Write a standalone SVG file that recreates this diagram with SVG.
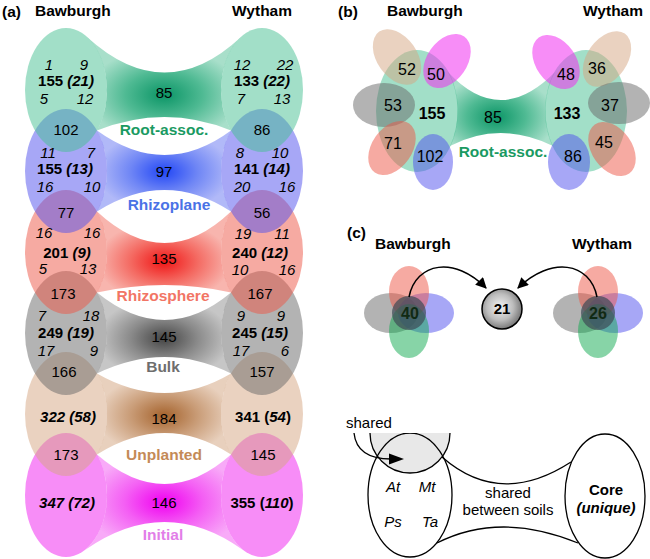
<svg xmlns="http://www.w3.org/2000/svg" width="650" height="559" viewBox="0 0 650 559">
<defs>
<radialGradient id="gG" cx="0.5" cy="0.62" r="0.5"><stop offset="0" stop-color="#0b9566"/><stop offset="0.5" stop-color="#4fba93"/><stop offset="1" stop-color="#a8dfca"/></radialGradient>
<radialGradient id="gB" cx="0.5" cy="0.51" r="0.5"><stop offset="0" stop-color="#2247f5"/><stop offset="0.5" stop-color="#6f86f5"/><stop offset="1" stop-color="#b1b9f8"/></radialGradient>
<radialGradient id="gR" cx="0.5" cy="0.62" r="0.5"><stop offset="0" stop-color="#f01515"/><stop offset="0.5" stop-color="#f46a62"/><stop offset="1" stop-color="#f8b5ae"/></radialGradient>
<radialGradient id="gK" cx="0.5" cy="0.57" r="0.5"><stop offset="0" stop-color="#454545"/><stop offset="0.5" stop-color="#8a8a8a"/><stop offset="1" stop-color="#c6c6c6"/></radialGradient>
<radialGradient id="gT" cx="0.5" cy="0.52" r="0.5"><stop offset="0" stop-color="#a5632d"/><stop offset="0.5" stop-color="#c99c77"/><stop offset="1" stop-color="#e8d0bd"/></radialGradient>
<radialGradient id="gM" cx="0.5" cy="0.5" r="0.5"><stop offset="0" stop-color="#f000f0"/><stop offset="0.5" stop-color="#f45ff4"/><stop offset="1" stop-color="#f8aaf8"/></radialGradient>
<radialGradient id="gG2" cx="0.45" cy="0.61" r="0.55"><stop offset="0" stop-color="#0b9566"/><stop offset="0.5" stop-color="#4fba93"/><stop offset="1" stop-color="#a8dfca"/></radialGradient>
<radialGradient id="gC" cx="0.45" cy="0.45" r="0.55"><stop offset="0" stop-color="#f4f4f4"/><stop offset="0.6" stop-color="#bdbdbd"/><stop offset="1" stop-color="#7a7a7a"/></radialGradient>
<marker id="ah" viewBox="0 0 10 10" refX="9" refY="5" markerWidth="13" markerHeight="11" markerUnits="userSpaceOnUse" orient="auto"><path d="M0,0 L10,5 L0,10 Z" fill="#000"/></marker>
<clipPath id="lc"><rect x="330" y="433" width="320" height="130"/></clipPath>
</defs>
<style>
text{font-family:"Liberation Sans",Arial,sans-serif;font-size:15px;text-anchor:middle;fill:#000}
.h{font-weight:bold;font-size:15.5px;text-anchor:start}
.b{font-weight:bold}
.i{font-style:italic}
.lb{font-weight:bold;font-size:15.5px}
.pb{font-size:16px}
.eg{fill:#45bf91;fill-opacity:.5}
.eb{fill:#5050ee;fill-opacity:.5}
.er{fill:#ee5545;fill-opacity:.5}
.ek{fill:#686868;fill-opacity:.5}
.et{fill:#d5a581;fill-opacity:.5}
.em{fill:#f030f0;fill-opacity:.55}
.ec{fill:#10aa50;fill-opacity:.5}
.ln{fill:none;stroke:#000;stroke-width:1.5}
</style>

<!-- Panel titles -->
<g id="titles">
<text class="h" x="2" y="17">(a)</text>
<text class="h" x="35" y="16">Bawburgh</text>
<text class="h" x="232" y="16">Wytham</text>
<text class="h" x="338" y="17">(b)</text>
<text class="h" x="387" y="16">Bawburgh</text>
<text class="h" x="583" y="16">Wytham</text>
<text class="h" x="347" y="238">(c)</text>
<text class="h" x="375" y="249">Bawburgh</text>
<text class="h" x="572" y="249">Wytham</text>
</g>

<!-- Panel (a) bridges -->
<g id="a-bridges">
<path d="M87,37 Q165,108 241,37 A41 62 0 0 0 231,130.5 Q165,103.5 97,130.5 A41 62 0 0 0 87,37 Z" fill="url(#gG)"/>
<path d="M97,130.5 Q165,179.5 231,130.5 A41 62 0 0 0 231,211.5 Q165,168.5 97,211.5 A41 62 0 0 0 97,130.5 Z" fill="url(#gB)"/>
<path d="M97,211.5 Q165,274.5 231,211.5 A41 62 0 0 0 231,292.5 Q165,277.5 97,292.5 A41 62 0 0 0 97,211.5 Z" fill="url(#gR)"/>
<path d="M97,292.5 Q165,347.5 231,292.5 A41 62 0 0 0 231,373.5 Q165,340.5 97,373.5 A41 62 0 0 0 97,292.5 Z" fill="url(#gK)"/>
<path d="M97,373.5 Q165,412.5 231,373.5 A41 62 0 0 0 231,454.5 Q165,411.5 97,454.5 A41 62 0 0 0 97,373.5 Z" fill="url(#gT)"/>
<path d="M97,454.5 Q165,513.5 231,454.5 A41 62 0 0 0 243,550 Q165,494 85,550 A41 62 0 0 0 97,454.5 Z" fill="url(#gM)"/>
</g>

<!-- Panel (a) ellipses, bottom rows first -->
<g id="a-initial"><ellipse class="em" cx="66" cy="495" rx="41" ry="62"/><ellipse class="em" cx="262" cy="495" rx="41" ry="62"/></g>
<g id="a-unplanted"><ellipse class="et" cx="66" cy="414" rx="41" ry="62"/><ellipse class="et" cx="262" cy="414" rx="41" ry="62"/></g>
<g id="a-bulk"><ellipse class="ek" cx="66" cy="333" rx="41" ry="62"/><ellipse class="ek" cx="262" cy="333" rx="41" ry="62"/></g>
<g id="a-rhizosphere"><ellipse class="er" cx="66" cy="252" rx="41" ry="62"/><ellipse class="er" cx="262" cy="252" rx="41" ry="62"/></g>
<g id="a-rhizoplane"><ellipse class="eb" cx="66" cy="171" rx="41" ry="62"/><ellipse class="eb" cx="262" cy="171" rx="41" ry="62"/></g>
<g id="a-root"><ellipse class="eg" cx="66" cy="90" rx="41" ry="62"/><ellipse class="eg" cx="262" cy="90" rx="41" ry="62"/></g>

<!-- Panel (a) texts -->
<g id="a-root-text">
<text class="i" x="49" y="70">1</text><text class="i" x="84" y="70">9</text>
<text class="b" x="66" y="86">155 <tspan class="i">(21)</tspan></text>
<text class="i" x="44" y="104">5</text><text class="i" x="85" y="104">12</text>
<text class="i" x="242" y="70">12</text><text class="i" x="285" y="70">22</text>
<text class="b" x="262" y="86">133 <tspan class="i">(22)</tspan></text>
<text class="i" x="241" y="104">7</text><text class="i" x="282" y="104">13</text>
<text x="164" y="98">85</text>
<text class="lb" x="164" y="135" style="fill:#1a9a62">Root-assoc.</text>
<text x="66" y="135">102</text><text x="262" y="135">86</text>
</g>
<g id="a-rhizoplane-text">
<text class="i" x="48" y="158">11</text><text class="i" x="91" y="158">7</text>
<text class="b" x="65" y="174">155 <tspan class="i">(13)</tspan></text>
<text class="i" x="45" y="192">16</text><text class="i" x="92" y="192">10</text>
<text class="i" x="240" y="158">8</text><text class="i" x="280" y="158">10</text>
<text class="b" x="262" y="174">141 <tspan class="i">(14)</tspan></text>
<text class="i" x="242" y="192">20</text><text class="i" x="287" y="192">16</text>
<text x="164" y="177">97</text>
<text class="lb" x="169" y="210" style="fill:#4a72e6">Rhizoplane</text>
<text x="66" y="218">77</text><text x="262" y="218">56</text>
</g>
<g id="a-rhizosphere-text">
<text class="i" x="44" y="238">16</text><text class="i" x="92" y="238">16</text>
<text class="b" x="67" y="258">201 <tspan class="i">(9)</tspan></text>
<text class="i" x="43" y="274">5</text><text class="i" x="88" y="274">13</text>
<text class="i" x="243" y="239">19</text><text class="i" x="282" y="239">11</text>
<text class="b" x="260" y="258">240 <tspan class="i">(12)</tspan></text>
<text class="i" x="240" y="275">10</text><text class="i" x="287" y="275">16</text>
<text x="164" y="264">135</text>
<text class="lb" x="163" y="301" style="fill:#f27565">Rhizosphere</text>
<text x="63" y="299">173</text><text x="260" y="299">167</text>
</g>
<g id="a-bulk-text">
<text class="i" x="42" y="321">7</text><text class="i" x="91" y="321">18</text>
<text class="b" x="66" y="338">249 <tspan class="i">(19)</tspan></text>
<text class="i" x="46" y="356">17</text><text class="i" x="94" y="356">9</text>
<text class="i" x="241" y="321">9</text><text class="i" x="281" y="321">9</text>
<text class="b" x="260" y="338">245 <tspan class="i">(15)</tspan></text>
<text class="i" x="241" y="356">17</text><text class="i" x="285" y="356">6</text>
<text x="164" y="342">145</text>
<text class="lb" x="163" y="372" style="fill:#6e6e6e">Bulk</text>
<text x="64" y="377">166</text><text x="262" y="377">157</text>
</g>
<g id="a-unplanted-text">
<text class="b i" x="68" y="422">322 (58)</text>
<text class="b" x="263" y="422">341 (<tspan class="i">54</tspan>)</text>
<text x="164" y="424">184</text>
<text class="lb" x="164" y="460" style="fill:#c48a57">Unplanted</text>
<text x="66" y="460">173</text><text x="263" y="460">145</text>
</g>
<g id="a-initial-text">
<text class="b i" x="67" y="508">347 (72)</text>
<text class="b" x="262" y="508">355 (<tspan class="i">110</tspan>)</text>
<text x="164" y="508">146</text>
<text class="lb" x="163" y="540" style="fill:#e27ee8">Initial</text>
</g>

<!-- Panel (b) -->
<g id="b-bridge"><path d="M448,72 Q500,128 555,72 A41 61 0 0 0 553,146 Q500,120 450,146 A41 61 0 0 0 448,72 Z" fill="url(#gG2)"/></g>
<g id="b-bawburgh">
<ellipse class="eg" cx="417" cy="111" rx="41" ry="61"/>
<ellipse class="et" cx="397" cy="57" rx="20" ry="31" transform="rotate(-35 397 57)"/>
<ellipse class="em" cx="447" cy="61" rx="20" ry="30" transform="rotate(35 447 61)"/>
<ellipse class="ek" cx="384" cy="105" rx="31" ry="22"/>
<ellipse class="er" cx="392" cy="148" rx="20" ry="30" transform="rotate(35 392 148)"/>
<ellipse class="eb" cx="433" cy="162" rx="20" ry="28"/>
<text class="pb" x="407" y="75">52</text>
<text class="pb" x="436" y="80">50</text>
<text class="pb" x="393" y="111">53</text>
<text class="pb b" x="432" y="119">155</text>
<text class="pb" x="393" y="149">71</text>
<text class="pb" x="430" y="162">102</text>
</g>
<g id="b-wytham">
<ellipse class="eg" cx="586" cy="111" rx="41" ry="61"/>
<ellipse class="em" cx="556" cy="62" rx="20" ry="30" transform="rotate(-35 556 62)"/>
<ellipse class="et" cx="607" cy="59" rx="20" ry="31" transform="rotate(35 607 59)"/>
<ellipse class="ek" cx="619" cy="103" rx="31" ry="21"/>
<ellipse class="er" cx="612" cy="149" rx="20" ry="30" transform="rotate(-35 612 149)"/>
<ellipse class="eb" cx="569" cy="162" rx="21" ry="28"/>
<text class="pb" x="566" y="80">48</text>
<text class="pb" x="597" y="74">36</text>
<text class="pb" x="610" y="111">37</text>
<text class="pb b" x="567" y="119">133</text>
<text class="pb" x="604" y="148">45</text>
<text class="pb" x="573" y="162">86</text>
</g>
<g id="b-labels">
<text class="pb" x="493" y="123">85</text>
<text class="lb" x="503" y="157" style="fill:#1a9a62">Root-assoc.</text>
</g>

<!-- Panel (c) -->
<g id="c-bawburgh">
<ellipse class="ek" cx="391" cy="313" rx="27" ry="20"/>
<ellipse class="eb" cx="426" cy="313" rx="28" ry="20"/>
<ellipse class="er" cx="409" cy="292" rx="20" ry="26"/>
<ellipse class="ec" cx="409" cy="331" rx="20" ry="27"/>
<circle cx="409" cy="313" r="17" fill="#3d4a55" fill-opacity="0.7"/>
<text class="pb b" x="410" y="319" style="fill:#102a14">40</text>
</g>
<g id="c-wytham">
<ellipse class="ek" cx="580" cy="313" rx="27" ry="20"/>
<ellipse class="eb" cx="615" cy="313" rx="28" ry="20"/>
<ellipse class="er" cx="598" cy="292" rx="20" ry="26"/>
<ellipse class="ec" cx="598" cy="331" rx="20" ry="27"/>
<circle cx="598" cy="313" r="17" fill="#3d4a55" fill-opacity="0.7"/>
<text class="pb b" x="598" y="319" style="fill:#102a14">26</text>
</g>
<g id="c-core">
<circle cx="502" cy="309" r="20" fill="url(#gC)" stroke="#000" stroke-width="1.5"/>
<text class="b" x="502" y="314">21</text>
</g>
<g id="c-connectors">
<path class="ln" d="M409,297 C416,262 455,256 486,288" marker-end="url(#ah)"/>
<path class="ln" d="M597,297 C590,262 551,256 518,288" marker-end="url(#ah)"/>
</g>

<!-- Legend -->
<g id="legend">
<text x="346" y="428" style="text-anchor:start">shared</text>
<g clip-path="url(#lc)">
<circle cx="410" cy="433" r="40" fill="#e8e8e8" stroke="#000" stroke-width="1.3"/>
<ellipse cx="410" cy="495" rx="42" ry="62" fill="none" stroke="#000" stroke-width="1.3"/>
<path d="M354,433 C356,452 370,459 391,459" fill="none" stroke="#000" stroke-width="1.3"/>
</g>
<polygon points="389,453.5 404,459 389,464.5" fill="#000"/>
<path d="M442,457 Q500,508 571,462" fill="none" stroke="#000" stroke-width="1.3"/>
<path d="M437,543 Q500,511 578,543" fill="none" stroke="#000" stroke-width="1.3"/>
<ellipse cx="605" cy="496" rx="40" ry="62" fill="none" stroke="#000" stroke-width="1.3"/>
<text class="i" x="393" y="492">At</text>
<text class="i" x="427" y="492">Mt</text>
<text class="i" x="393" y="527">Ps</text>
<text class="i" x="430" y="527">Ta</text>
<text x="508" y="498">shared</text>
<text x="508" y="515">between soils</text>
<text class="b" x="606" y="495">Core</text>
<text class="b i" x="606" y="513">(unique)</text>
</g>
</svg>
